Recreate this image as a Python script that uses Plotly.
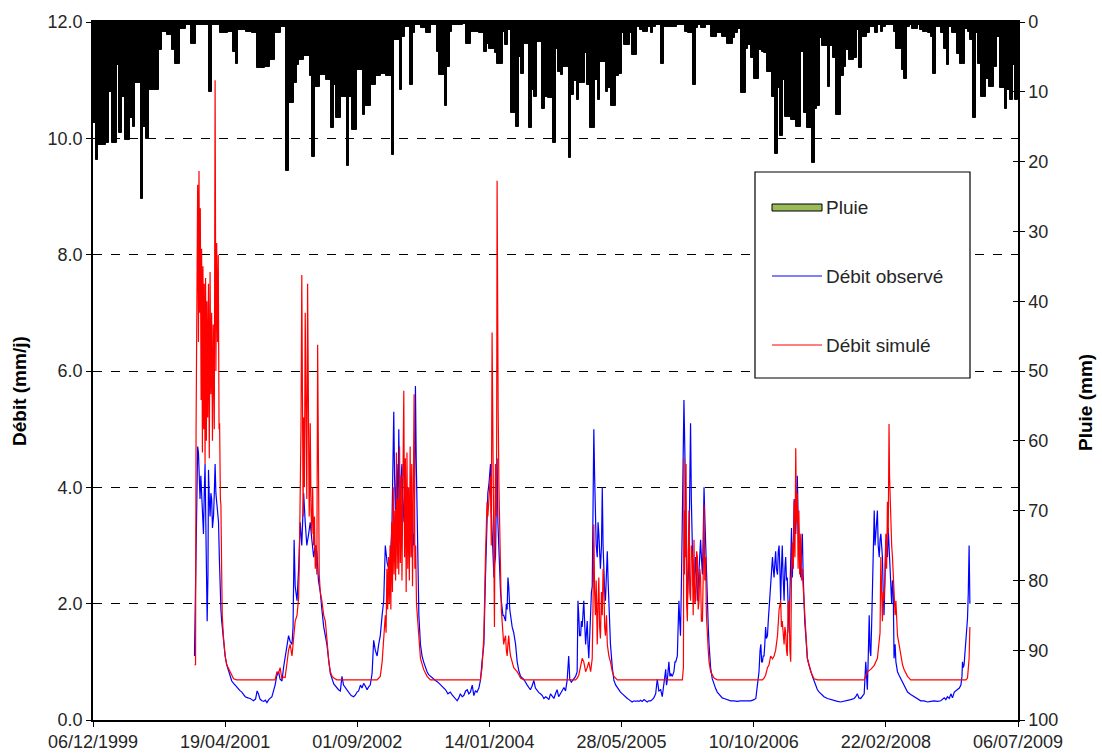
import pandas as pd
import plotly.graph_objects as go

# ---------------- data ----------------
start_date = "1999-12-06"
end_date = "2009-07-06"
rain_step_days = 10

rain_mm = [
    14.5, 19.8, 17.6, 17.6, 17.6, 17.4, 10.0, 17.4, 17.4, 6.2,
    15.9, 10.7, 16.9, 16.9, 13.8, 15.0, 8.8, 8.8, 25.4, 15.0,
    16.7, 9.7, 9.7, 9.7, 9.7, 4.0, 1.4, 1.4, 1.9, 1.9,
    4.0, 6.0, 6.0, 1.0, 1.0, 0.5, 0.5, 3.1, 3.1, 0.5,
    0.5, 0.5, 0.5, 0.5, 10.0, 0.5, 0.5, 0.5, 1.6, 1.6,
    1.6, 1.4, 1.4, 4.3, 6.0, 1.1, 1.1, 1.1, 1.4, 1.4,
    1.6, 1.6, 6.6, 6.6, 6.6, 6.4, 6.4, 5.4, 5.4, 1.6,
    1.6, 0.7, 0.7, 21.4, 11.6, 11.6, 8.8, 6.2, 5.4, 5.4,
    4.9, 4.9, 7.8, 19.3, 9.3, 9.3, 7.6, 7.6, 8.3, 8.3,
    15.2, 9.0, 13.8, 13.8, 10.7, 10.7, 20.7, 10.7, 15.5, 15.5,
    6.9, 6.9, 13.3, 12.1, 12.1, 9.0, 9.0, 7.8, 7.8, 7.4,
    7.4, 7.8, 7.8, 19.0, 2.6, 2.6, 9.7, 2.1, 0.7, 0.7,
    9.0, 1.6, 0.4, 0.4, 0.9, 0.9, 1.6, 1.6, 0.4, 0.4,
    4.3, 7.6, 7.6, 12.1, 6.4, 1.4, 0.4, 0.4, 0.4, 0.4,
    0.3, 3.1, 3.1, 1.4, 1.4, 1.4, 1.6, 1.6, 4.3, 3.1,
    3.8, 3.8, 4.5, 6.0, 6.0, 1.4, 3.3, 1.1, 13.1, 13.1,
    15.0, 5.0, 7.4, 3.1, 3.1, 15.2, 9.7, 10.7, 2.8, 2.8,
    12.4, 10.7, 10.9, 10.9, 17.4, 3.8, 7.1, 7.6, 6.4, 6.4,
    19.5, 10.5, 8.5, 11.2, 8.8, 8.8, 4.5, 9.0, 15.2, 15.2,
    8.3, 11.2, 5.7, 5.7, 10.0, 9.5, 12.1, 12.1, 7.8, 7.4,
    1.6, 3.3, 3.3, 1.6, 4.7, 4.7, 0.7, 1.1, 1.4, 1.4,
    0.7, 1.6, 0.7, 0.4, 0.4, 6.0, 0.7, 0.7, 0.7, 0.7,
    0.7, 0.4, 0.4, 0.4, 1.4, 1.6, 1.6, 9.0, 0.9, 0.4,
    0.9, 0.9, 0.4, 0.4, 2.1, 2.1, 1.6, 1.6, 2.1, 2.1,
    3.1, 3.1, 2.3, 1.6, 1.0, 10.2, 10.2, 3.8, 3.3, 5.2,
    8.1, 8.1, 4.0, 4.3, 4.5, 7.1, 7.1, 10.7, 18.9, 9.5,
    16.4, 8.3, 13.6, 13.6, 14.0, 14.0, 15.0, 15.0, 4.3, 13.1,
    15.2, 15.2, 20.2, 12.4, 12.1, 2.3, 3.5, 3.5, 9.3, 3.5,
    5.2, 13.3, 13.3, 7.8, 6.4, 4.0, 5.4, 5.4, 5.2, 1.1,
    6.6, 2.1, 2.1, 1.6, 0.7, 0.7, 1.6, 0.4, 1.4, 0.7,
    0.4, 0.4, 0.4, 1.4, 3.8, 3.8, 6.9, 8.1, 0.7, 0.4,
    1.0, 1.0, 0.4, 1.1, 1.4, 1.4, 1.6, 2.1, 7.4, 0.7,
    0.7, 1.6, 3.8, 6.2, 0.7, 1.6, 1.6, 4.6, 6.0, 6.0,
    1.0, 1.4, 2.6, 13.8, 1.6, 6.0, 10.7, 10.7, 8.1, 9.3,
    9.3, 6.4, 2.1, 9.5, 9.5, 12.4, 9.7, 11.2, 6.2, 11.2,
]

# observed discharge: (days since start_date, mm/j)
obs_2001 = [(384,1.1),(390,3.2),(396,4.7),(399,4.6),(402,3.9),(405,3.8),(408,4.2),(412,3.7),(415,3.3),(418,3.2),
    (421,3.9),(424,4.4),(428,3.0),(431,1.8),(432,1.7),(435,2.5),(437,4.3),(440,3.8),(443,3.5),(446,3.9),(449,3.8),
    (452,3.3),(456,3.5),(459,3.9),(462,4.4),(465,3.9),(468,3.7),(471,3.5),(475,3.4),(478,2.8),(481,2.2),(484,1.9),
    (487,1.7),(494,1.3),(500,1.1),(506,0.95),(513,0.83),(519,0.75),(525,0.67),(532,0.63),(538,0.6),(544,0.56),
    (551,0.52),(557,0.5),(563,0.48),(570,0.44),(576,0.4),(586,0.38),(595,0.37),(601,0.35),(607,0.33),(615,0.36),
    (621,0.5),(626,0.45),(632,0.36),(639,0.33),(646,0.32),(652,0.34),(658,0.3),(665,0.35),(671,0.38),(677,0.4),
    (683,0.5),(689,0.6),(695,0.75),(702,0.83),(708,0.7),(715,0.67),(721,0.9),(727,1.1),(734,1.3),(740,1.45),
    (746,1.35),(753,1.3),(757,1.6),(761,3.1),(765,2.3),(772,2.05),(778,2.6),(784,3.4),(790,3.0),(797,3.9),
    (803,3.4),(809,3.0),(816,3.2),(822,3.4),(828,3.1),(835,2.8),(841,3.0),(847,2.9),(853,2.4),(860,2.2),
    (866,1.9),(873,1.6),(885,1.3)]
obs_2003 = [(898,0.8),(911,0.62),(923,0.55),(929,0.52),(936,0.5),(942,0.75),(948,0.6),(955,0.55),(967,0.48),
    (977,0.42),(986,0.4),(993,0.43),(999,0.48),(1005,0.5),(1012,0.6),(1018,0.55),(1024,0.63),(1031,0.58),
    (1037,0.52),(1043,0.57),(1049,0.6),(1056,0.8),(1062,1.37),(1068,1.2),(1075,1.1),(1081,1.3),(1087,1.45),
    (1094,1.8),(1100,2.05),(1106,3.0),(1113,2.7),(1119,2.6),(1125,2.8),(1131,3.3),(1138,5.3),(1141,4.2),
    (1144,3.6),(1147,4.0),(1150,4.4),(1154,3.5),(1157,5.0),(1160,4.0),(1163,3.6),(1166,4.2),(1169,4.4),
    (1173,3.4),(1176,3.6),(1179,3.9),(1182,3.2),(1185,3.5),(1188,4.0),(1192,3.3),(1195,3.6),(1198,3.1),
    (1201,3.6),(1205,3.0),(1208,2.8),(1211,3.2),(1214,3.0),(1217,4.0),(1220,5.74),(1223,4.5),(1226,3.4),
    (1230,2.4),(1233,1.8),(1239,1.3),(1245,1.1),(1251,1.0),(1258,0.9),(1264,0.83),(1270,0.78),(1277,0.75),
    (1286,0.72),(1296,0.68),(1305,0.65),(1315,0.6),(1325,0.55),(1334,0.52),(1343,0.45),(1352,0.48),(1359,0.43),
    (1365,0.4),(1372,0.36),(1378,0.33),(1384,0.38),(1390,0.45),(1397,0.4),(1403,0.42),(1410,0.5),(1416,0.52),
    (1422,0.45),(1428,0.48),(1435,0.6),(1441,0.42),(1447,0.5),(1453,0.48),(1460,0.55),(1466,0.68)]
obs_2004 = [(1472,1.0),(1479,1.3),(1485,2.45),(1488,3.0),(1491,3.6),(1494,3.9),(1498,4.05),(1501,4.2),(1504,4.4),
    (1507,3.6),(1510,3.2),(1514,2.6),(1517,2.45),(1520,2.7),(1523,2.8),(1527,4.1),(1529,4.5),(1532,3.4),(1536,2.8),
    (1539,2.3),(1542,2.2),(1545,2.05),(1548,1.9),(1551,1.8),(1554,1.8),(1558,1.75),(1561,1.7),(1564,2.0),(1567,1.9),
    (1570,2.45),(1573,2.3),(1577,1.9),(1580,1.8),(1583,1.7),(1586,1.6),(1592,1.5),(1599,1.3),(1605,1.0),(1611,0.85),
    (1618,0.75),(1630,0.7),(1643,0.6),(1649,0.55),(1655,0.52),(1661,0.58),(1668,0.68),(1674,0.55),(1681,0.5),
    (1687,0.47),(1693,0.45),(1700,0.42),(1706,0.37),(1713,0.4),(1719,0.38),(1725,0.35),(1731,0.45),(1744,0.37),
    (1750,0.45),(1756,0.52),(1762,0.4),(1769,0.45),(1775,0.5),(1782,0.56),(1788,0.5),(1794,0.68),(1800,1.1),
    (1804,0.7),(1810,0.65),(1819,0.72),(1826,0.75),(1832,0.83)]
obs_2005 = [(1835,2.05),(1838,1.8),(1841,1.45),(1845,1.45),(1848,1.7),(1851,1.6),(1854,1.9),(1857,2.05),(1861,1.6),
    (1864,1.3),(1867,1.5),(1870,1.7),(1873,1.3),(1876,1.06),(1880,1.5),(1883,2.05),(1886,2.2),(1889,2.3),(1892,3.5),
    (1895,5.0),(1898,4.2),(1901,3.6),(1904,3.0),(1908,2.8),(1911,3.4),(1914,3.2),(1917,2.9),(1920,2.6),(1924,3.0),
    (1927,4.0),(1930,3.0),(1933,2.45),(1936,2.2),(1939,2.05),(1943,2.4),(1946,2.9),(1949,2.4),(1952,2.05),(1955,1.7),
    (1958,1.3),(1965,0.9),(1971,0.68),(1978,0.6),(1984,0.56),(1990,0.5),(1996,0.48),(2003,0.45),(2009,0.42),
    (2015,0.4),(2022,0.37),(2028,0.35),(2034,0.33),(2040,0.31),(2047,0.33),(2053,0.32),(2059,0.33),(2066,0.32),
    (2072,0.34),(2078,0.32),(2085,0.35),(2091,0.33),(2097,0.31),(2103,0.33),(2110,0.33),(2116,0.35),(2122,0.38)]
obs_2006 = [(2129,0.45),(2135,0.7),(2141,0.5),(2148,0.52),(2154,0.4),(2160,0.6),(2167,0.87),(2170,0.6),(2173,0.68),
    (2179,1.0),(2183,0.75),(2186,0.8),(2192,0.75),(2198,0.83),(2202,1.0),(2205,1.0),(2208,1.05),(2211,1.1),
    (2214,1.6),(2217,2.05),(2220,1.7),(2223,1.45),(2227,2.5),(2230,3.6),(2233,4.5),(2236,5.5),(2238,5.0),
    (2240,4.4),(2242,4.4),(2245,3.5),(2249,2.05),(2252,2.4),(2255,2.8),(2258,4.0),(2261,5.1),(2264,3.8),
    (2268,2.45),(2271,2.3),(2274,2.2),(2277,2.6),(2280,2.8),(2284,2.4),(2287,2.05),(2290,2.3),(2293,2.6),
    (2296,2.9),(2299,3.1),(2302,2.8),(2306,2.5),(2309,3.2),(2312,4.0),(2315,3.5),(2318,3.0),(2321,2.5),
    (2324,2.05),(2328,1.6),(2331,1.3),(2337,0.9),(2343,0.71),(2350,0.6),(2356,0.54),(2362,0.48),(2369,0.44),
    (2375,0.4),(2381,0.38),(2388,0.37),(2400,0.35),(2413,0.33),(2425,0.33),(2438,0.32),(2450,0.33),(2463,0.33),
    (2476,0.32),(2489,0.33),(2501,0.35),(2508,0.37)]
obs_2007 = [(2514,0.6),(2517,0.75),(2520,0.83),(2524,1.2),(2527,1.3),(2530,1.0),(2533,1.0),(2536,1.1),(2539,1.1),
    (2542,1.3),(2545,1.6),(2548,1.4),(2552,1.45),(2555,1.7),(2558,1.9),(2561,2.0),(2564,2.2),(2567,2.5),(2571,2.8),
    (2574,2.6),(2577,2.45),(2580,2.7),(2583,2.9),(2586,2.6),(2590,2.5),(2593,2.9),(2596,3.0),(2599,2.6),(2602,2.05),
    (2605,2.6),(2608,3.0),(2611,2.5),(2615,2.05),(2618,2.6),(2621,2.8),(2624,2.4),(2627,2.45),(2630,2.0),(2634,1.5),
    (2637,2.2),(2640,2.8),(2643,3.3),(2646,2.45),(2650,3.0),(2653,3.8),(2656,3.4),(2659,3.2),(2662,3.6),(2665,4.2),
    (2668,3.5),(2671,3.2),(2674,2.8),(2678,2.45),(2681,2.9),(2684,3.2),(2687,2.5),(2690,2.05),(2693,1.7),
    (2697,1.45),(2703,1.06),(2709,0.95),(2716,0.83),(2722,0.75),(2728,0.68),(2735,0.6),(2741,0.52),(2748,0.48),
    (2754,0.45),(2766,0.4),(2779,0.37),(2791,0.35),(2804,0.33),(2817,0.32),(2829,0.31),(2842,0.32),(2855,0.33),
    (2867,0.35),(2880,0.37),(2886,0.4),(2892,0.45),(2898,0.38),(2905,0.37),(2911,0.4),(2918,0.45)]
obs_2008 = [(2924,1.0),(2927,0.6),(2930,0.52),(2934,1.2),(2937,1.8),(2940,1.2),(2943,1.1),(2946,1.6),(2950,2.5),
    (2953,3.55),(2956,3.6),(2959,3.0),(2962,3.2),(2965,3.5),(2968,3.6),(2971,3.0),(2975,2.8),(2978,3.1),(2981,3.2),
    (2984,3.0),(2987,2.8),(2990,2.2),(2993,1.8),(2997,2.5),(3000,3.1),(3003,2.9),(3006,2.8),(3009,3.3),(3012,3.0),
    (3016,2.6),(3019,2.3),(3022,2.0),(3025,2.4),(3028,2.2),(3031,1.06),(3035,1.3),(3038,1.0),(3044,0.83),
    (3050,0.77),(3057,0.71),(3063,0.65),(3069,0.6),(3076,0.54),(3082,0.48),(3094,0.44),(3107,0.4),(3120,0.37),
    (3132,0.33),(3145,0.33),(3158,0.31),(3170,0.32),(3183,0.33),(3196,0.32),(3208,0.33),(3221,0.38),(3227,0.35),
    (3233,0.4),(3240,0.37),(3246,0.45),(3252,0.38),(3259,0.48),(3265,0.5),(3271,0.52),(3278,0.55),(3284,0.6),
    (3288,0.75),(3290,1.0),(3293,0.9),(3296,0.95),(3300,1.2),(3303,1.3),(3306,1.5),(3309,1.75),(3312,2.2),
    (3315,3.0),(3318,2.0)]

# simulated discharge: (days since start_date, mm/j)
sim_2001 = [(384,0.95),(388,0.95),(390,5.0),(393,8.5),(396,9.2),(399,6.5),(401,9.44),(404,7.0),(406,8.8),(409,5.5),
    (411,8.1),(414,4.6),(416,7.8),(419,5.0),(421,7.5),(424,4.4),(426,7.6),(429,4.8),(431,7.2),(434,5.2),(437,7.5),
    (440,4.5),(443,7.7),(446,5.6),(449,7.0),(452,4.8),(455,6.8),(459,5.0),(462,11.0),(465,6.0),(468,8.2),(471,6.5),
    (474,8.0),(477,5.0),(479,5.1),(482,3.8),(484,3.7),(487,2.5),(489,1.8),(494,1.4),(500,1.1),(506,0.95),
    (519,0.83),(532,0.71),(544,0.69),(689,0.69),(696,0.83),(702,0.8),(708,0.9),(715,0.7),(721,0.74),(727,0.73),
    (734,0.98),(740,1.2),(746,1.3),(753,1.1),(759,1.4),(765,1.7),(772,1.8),(778,2.1),(781,2.8),(784,4.0),
    (787,5.0),(790,7.65),(793,4.5),(795,3.5),(797,5.2),(800,4.0),(803,7.0),(806,4.4),(809,3.8),(812,7.5),
    (815,4.5),(818,3.5),(820,4.0),(822,5.1),(825,3.6),(828,3.2),(831,4.0),(835,3.0),(838,3.5),(841,2.6),
    (844,3.0),(847,2.5),(850,6.45),(853,3.0),(856,2.5),(860,2.2),(866,2.05),(873,1.8),(879,1.7),(885,1.4),
    (892,1.0),(898,0.83),(905,0.75),(911,0.72),(923,0.69)]
sim_2003 = [(1075,0.69),(1081,0.72),(1087,0.75),(1094,1.0),(1100,1.45),(1103,1.7),(1106,1.8),(1109,1.5),(1112,2.6),
    (1115,1.9),(1118,2.8),(1121,2.0),(1124,3.0),(1127,1.9),(1130,3.4),(1133,2.2),(1136,4.0),(1139,2.5),(1142,3.6),
    (1145,2.4),(1148,4.6),(1151,2.6),(1154,3.8),(1157,2.5),(1160,4.7),(1163,2.7),(1166,4.2),(1169,2.4),(1172,4.4),
    (1176,5.66),(1179,2.8),(1182,4.5),(1185,2.2),(1188,4.6),(1191,2.6),(1194,4.0),(1197,2.4),(1200,4.7),(1203,2.8),
    (1206,4.4),(1209,2.3),(1212,3.6),(1215,5.6),(1218,2.6),(1221,3.0),(1224,2.0),(1227,1.8),(1233,1.3),(1239,1.06),
    (1251,0.87),(1264,0.75),(1277,0.69)]
sim_2004 = [(1466,0.69),(1472,0.9),(1479,1.45),(1485,2.8),(1488,3.2),(1491,3.75),(1494,3.5),(1498,3.9),(1501,4.0),
    (1504,4.2),(1507,3.0),(1510,6.66),(1513,4.5),(1515,3.0),(1517,2.0),(1519,1.6),(1521,3.5),(1523,4.4),(1526,3.5),
    (1527,3.75),(1529,9.27),(1531,5.5),(1533,5.36),(1536,4.0),(1539,3.0),(1542,2.8),(1545,1.9),(1548,1.7),
    (1551,1.5),(1554,1.3),(1558,1.4),(1561,1.45),(1564,1.2),(1567,1.1),(1570,1.3),(1573,1.45),(1577,1.2),
    (1580,1.1),(1586,1.0),(1592,0.9),(1599,0.86),(1605,0.83),(1618,0.72),(1630,0.69)]
sim_2005 = [(1826,0.69),(1832,0.72),(1838,0.77),(1845,0.9),(1851,1.06),(1857,1.0),(1864,0.83),(1870,0.9),(1876,1.0),
    (1883,0.83),(1889,1.06),(1892,2.0),(1895,3.36),(1898,2.2),(1901,1.8),(1904,2.4),(1908,1.3),(1911,2.0),
    (1914,2.45),(1917,1.6),(1920,1.4),(1924,2.2),(1927,1.8),(1930,2.6),(1933,2.3),(1936,1.6),(1939,1.45),
    (1943,1.8),(1946,1.3),(1952,1.1),(1958,1.0),(1965,0.83),(1971,0.75),(1984,0.69)]
sim_2006 = [(2230,0.69),(2234,0.9),(2236,4.5),(2238,2.5),(2240,3.6),(2242,2.8),(2244,4.4),(2246,2.0),(2249,1.7),
    (2252,2.8),(2255,3.6),(2258,2.2),(2261,2.05),(2264,3.0),(2268,2.8),(2271,1.8),(2274,3.1),(2277,2.0),(2280,2.05),
    (2284,2.9),(2287,2.8),(2290,1.9),(2293,2.05),(2296,2.6),(2299,2.45),(2302,1.7),(2306,1.7),(2309,2.5),(2312,3.7),
    (2315,2.4),(2318,2.8),(2321,1.8),(2324,1.45),(2328,1.2),(2331,1.0),(2337,0.83),(2343,0.78),(2350,0.72),
    (2362,0.69)]
sim_2007 = [(2533,0.69),(2539,0.72),(2545,0.77),(2552,0.9),(2558,0.95),(2564,1.1),(2571,1.05),(2577,1.1),(2583,1.2),
    (2590,1.45),(2596,1.9),(2602,2.05),(2605,1.6),(2608,1.7),(2611,1.45),(2615,1.3),(2618,1.6),(2621,1.5),
    (2624,1.2),(2627,1.1),(2630,2.0),(2634,2.05),(2637,1.2),(2640,1.0),(2643,2.5),(2646,3.05),(2650,2.6),
    (2653,3.75),(2656,2.8),(2659,4.67),(2662,3.4),(2665,3.9),(2668,2.6),(2671,3.6),(2674,2.5),(2678,3.2),
    (2681,2.4),(2684,2.6),(2687,2.3),(2690,2.05),(2693,1.7),(2697,1.45),(2703,1.06),(2709,0.95),(2716,0.83),
    (2728,0.71),(2741,0.69)]
sim_2008 = [(2918,0.69),(2924,0.75),(2930,0.83),(2943,0.87),(2956,0.94),(2968,1.06),(2975,1.3),(2978,1.5),(2981,2.8),
    (2984,1.9),(2987,1.7),(2990,2.2),(2993,2.05),(2996,2.4),(3000,3.2),(3003,2.6),(3006,3.75),(3009,3.2),
    (3012,5.09),(3014,4.2),(3016,3.8),(3019,3.6),(3022,3.0),(3025,2.8),(3028,2.5),(3031,2.1),(3035,1.8),
    (3038,2.05),(3041,1.6),(3044,1.45),(3050,1.3),(3057,1.06),(3063,0.95),(3069,0.87),(3082,0.75),(3094,0.69),
    (3303,0.69),(3309,0.72),(3312,0.9),(3315,1.06),(3318,1.6)]

x_tick_dates = ["1999-12-06", "2001-04-19", "2002-09-01", "2004-01-14",
                "2005-05-28", "2006-10-10", "2008-02-22", "2009-07-06"]
x_tick_text = ["06/12/1999", "19/04/2001", "01/09/2002", "14/01/2004",
               "28/05/2005", "10/10/2006", "22/02/2008", "06/07/2009"]

# ---------------- build ----------------
t0 = pd.Timestamp(start_date)


def to_xy(*seasons):
    pts = [p for s in seasons for p in s]
    days = [p[0] for p in pts]
    vals = [p[1] for p in pts]
    return t0 + pd.to_timedelta(days, unit="D"), vals


obs_x, obs_y = to_xy(obs_2001, obs_2003, obs_2004, obs_2005, obs_2006, obs_2007, obs_2008)
sim_x, sim_y = to_xy(sim_2001, sim_2003, sim_2004, sim_2005, sim_2006, sim_2007, sim_2008)
rain_x = pd.date_range(start=start_date, periods=len(rain_mm), freq=f"{rain_step_days}D")

FONT = "Liberation Sans, Arial, sans-serif"
TXT = "#262626"
TICK_SIZE = 18

fig = go.Figure()
fig.add_trace(go.Scatter(x=obs_x, y=obs_y, mode="lines", name="Débit observé",
                         line=dict(color="#0000FF", width=1.2), yaxis="y", showlegend=False))
fig.add_trace(go.Scatter(x=sim_x, y=sim_y, mode="lines", name="Débit simulé",
                         line=dict(color="#FF0000", width=1.2), yaxis="y", showlegend=False))
fig.add_trace(go.Bar(x=rain_x, y=rain_mm, name="Pluie", yaxis="y2",
                     width=rain_step_days * 86400000, offset=0,
                     marker=dict(color="black", line=dict(color="black", width=1)),
                     showlegend=False))

fig.update_layout(
    width=1102, height=756,
    margin=dict(l=93, r=84, t=22, b=36),
    paper_bgcolor="white", plot_bgcolor="white",
    font=dict(family=FONT, size=TICK_SIZE, color=TXT),
    bargap=0,
    xaxis=dict(type="date", range=[start_date, end_date],
               tickvals=x_tick_dates, ticktext=x_tick_text,
               ticks="outside", ticklen=5, tickcolor="black", tickwidth=1.2,
               showline=True, linecolor="black", linewidth=1.5, mirror=True,
               showgrid=False, zeroline=False, automargin=False,
               tickfont=dict(size=TICK_SIZE, color=TXT, family=FONT)),
    yaxis=dict(range=[0, 12], tickvals=[0, 2, 4, 6, 8, 10, 12], tickformat=".1f",
               ticks="outside", ticklen=5, tickcolor="black", tickwidth=1.2,
               showline=True, linecolor="black", linewidth=1.5,
               showgrid=True, gridcolor="black", gridwidth=1, griddash="dash",
               zeroline=False, automargin=False,
               tickfont=dict(size=TICK_SIZE, color=TXT, family=FONT)),
    yaxis2=dict(overlaying="y", side="right", range=[100, 0],
                tickvals=list(range(0, 101, 10)),
                ticks="outside", ticklen=5, tickcolor="black", tickwidth=1.2,
                minor=dict(tickvals=list(range(0, 101, 10)), ticks="inside", ticklen=5,
                           tickcolor="black", tickwidth=1.2, showgrid=False),
                showline=True, linecolor="black", linewidth=1.5,
                showgrid=False, zeroline=False, automargin=False,
                tickfont=dict(size=TICK_SIZE, color=TXT, family=FONT)),
)


# legend box and axis titles placed in paper coordinates
def px_x(px):
    return (px - 93) / 925.0


def px_y(py):
    return (720 - py) / 698.0


shapes = [
    dict(type="rect", xref="paper", yref="paper", x0=px_x(755), x1=px_x(970), y0=px_y(378), y1=px_y(172),
         line=dict(color="black", width=1.2), fillcolor="white", layer="above"),
    dict(type="rect", xref="paper", yref="paper", x0=px_x(772), x1=px_x(822), y0=px_y(211), y1=px_y(204),
         line=dict(color="black", width=1), fillcolor="#9BBB59", layer="above"),
    dict(type="line", xref="paper", yref="paper", x0=px_x(772), x1=px_x(822), y0=px_y(276), y1=px_y(276),
         line=dict(color="#0000FF", width=1.2), layer="above"),
    dict(type="line", xref="paper", yref="paper", x0=px_x(772), x1=px_x(822), y0=px_y(345), y1=px_y(345),
         line=dict(color="#FF0000", width=1.2), layer="above"),
]
annotations = [
    dict(text=t, xref="paper", yref="paper", x=px_x(824), y=px_y(py), xanchor="left", yanchor="middle",
         showarrow=False, font=dict(size=19, color=TXT, family=FONT))
    for t, py in [("Pluie", 207), ("Débit observé", 276), ("Débit simulé", 345)]
]
annotations += [
    dict(text="<b>Débit (mm/j)</b>", xref="paper", yref="paper", x=px_x(20), y=px_y(391),
         xanchor="center", yanchor="middle", textangle=-90, showarrow=False,
         font=dict(size=19, color="black", family=FONT)),
    dict(text="<b>Pluie (mm)</b>", xref="paper", yref="paper", x=px_x(1085), y=px_y(403),
         xanchor="center", yanchor="middle", textangle=-90, showarrow=False,
         font=dict(size=19, color="black", family=FONT)),
]
fig.update_layout(shapes=shapes, annotations=annotations)

fig.write_html("out.html")
